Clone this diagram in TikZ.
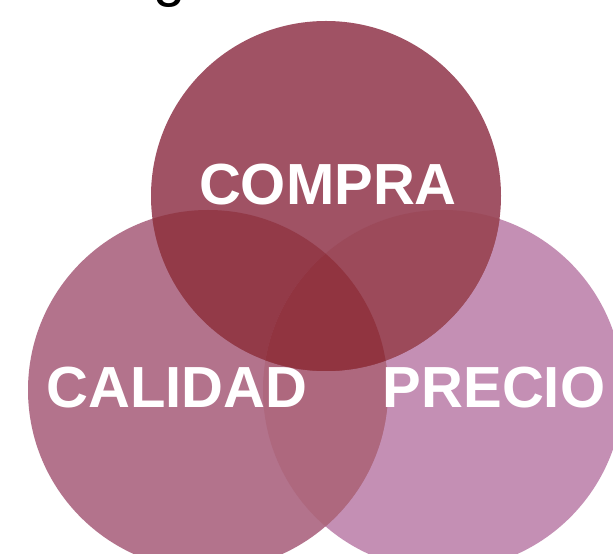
\documentclass[tikz,border=0pt]{standalone}
\usepackage{fontspec}
\setmainfont{Liberation Sans}
\definecolor{cTop}{RGB}{160,82,100}
\definecolor{cLeft}{RGB}{179,115,140}
\definecolor{cRight}{RGB}{196,143,180}
\definecolor{cLR}{RGB}{174,104,126}
\definecolor{cTL}{RGB}{147,58,72}
\definecolor{cTR}{RGB}{156,74,90}
\definecolor{cTLR}{RGB}{145,52,64}
\tikzset{
  lbl/.style={text=white,font=\bfseries\fontsize{58}{60}\selectfont,inner sep=0pt,anchor=base},
}
\begin{document}
\begin{tikzpicture}[x=1pt,y=1pt]
\useasboundingbox (0,0) rectangle (613,554);
\clip (0,0) rectangle (613,554);
\fill[white] (0,0) rectangle (613,554);
% circle centres (y flipped: 554 - y)
\coordinate (cT) at (326,358);
\coordinate (cL) at (208,164);
\coordinate (cR) at (443,164);
\def\rT{175}
\def\rS{180}
\fill[cRight] (cR) circle[radius=\rS];
\fill[cLeft] (cL) circle[radius=\rS];
\begin{scope}
  \clip (cL) circle[radius=\rS];
  \fill[cLR] (cR) circle[radius=\rS];
\end{scope}
\fill[cTop] (cT) circle[radius=\rT];
\begin{scope}
  \clip (cT) circle[radius=\rT];
  \fill[cTL] (cL) circle[radius=\rS];
  \fill[cTR] (cR) circle[radius=\rS];
  \clip (cL) circle[radius=\rS];
  \fill[cTLR] (cR) circle[radius=\rS];
\end{scope}
\node[lbl] (compra) at (328,349) {COMPRA};
\node[lbl] (calidad) at (177,146) {CALIDAD};
\node[lbl] (precio) at (494,146) {PRECIO};
\node[font=\fontsize{58}{60}\selectfont,inner sep=0pt,anchor=base,text=black] (g) at (170,558) {g};
\end{tikzpicture}
\end{document}
